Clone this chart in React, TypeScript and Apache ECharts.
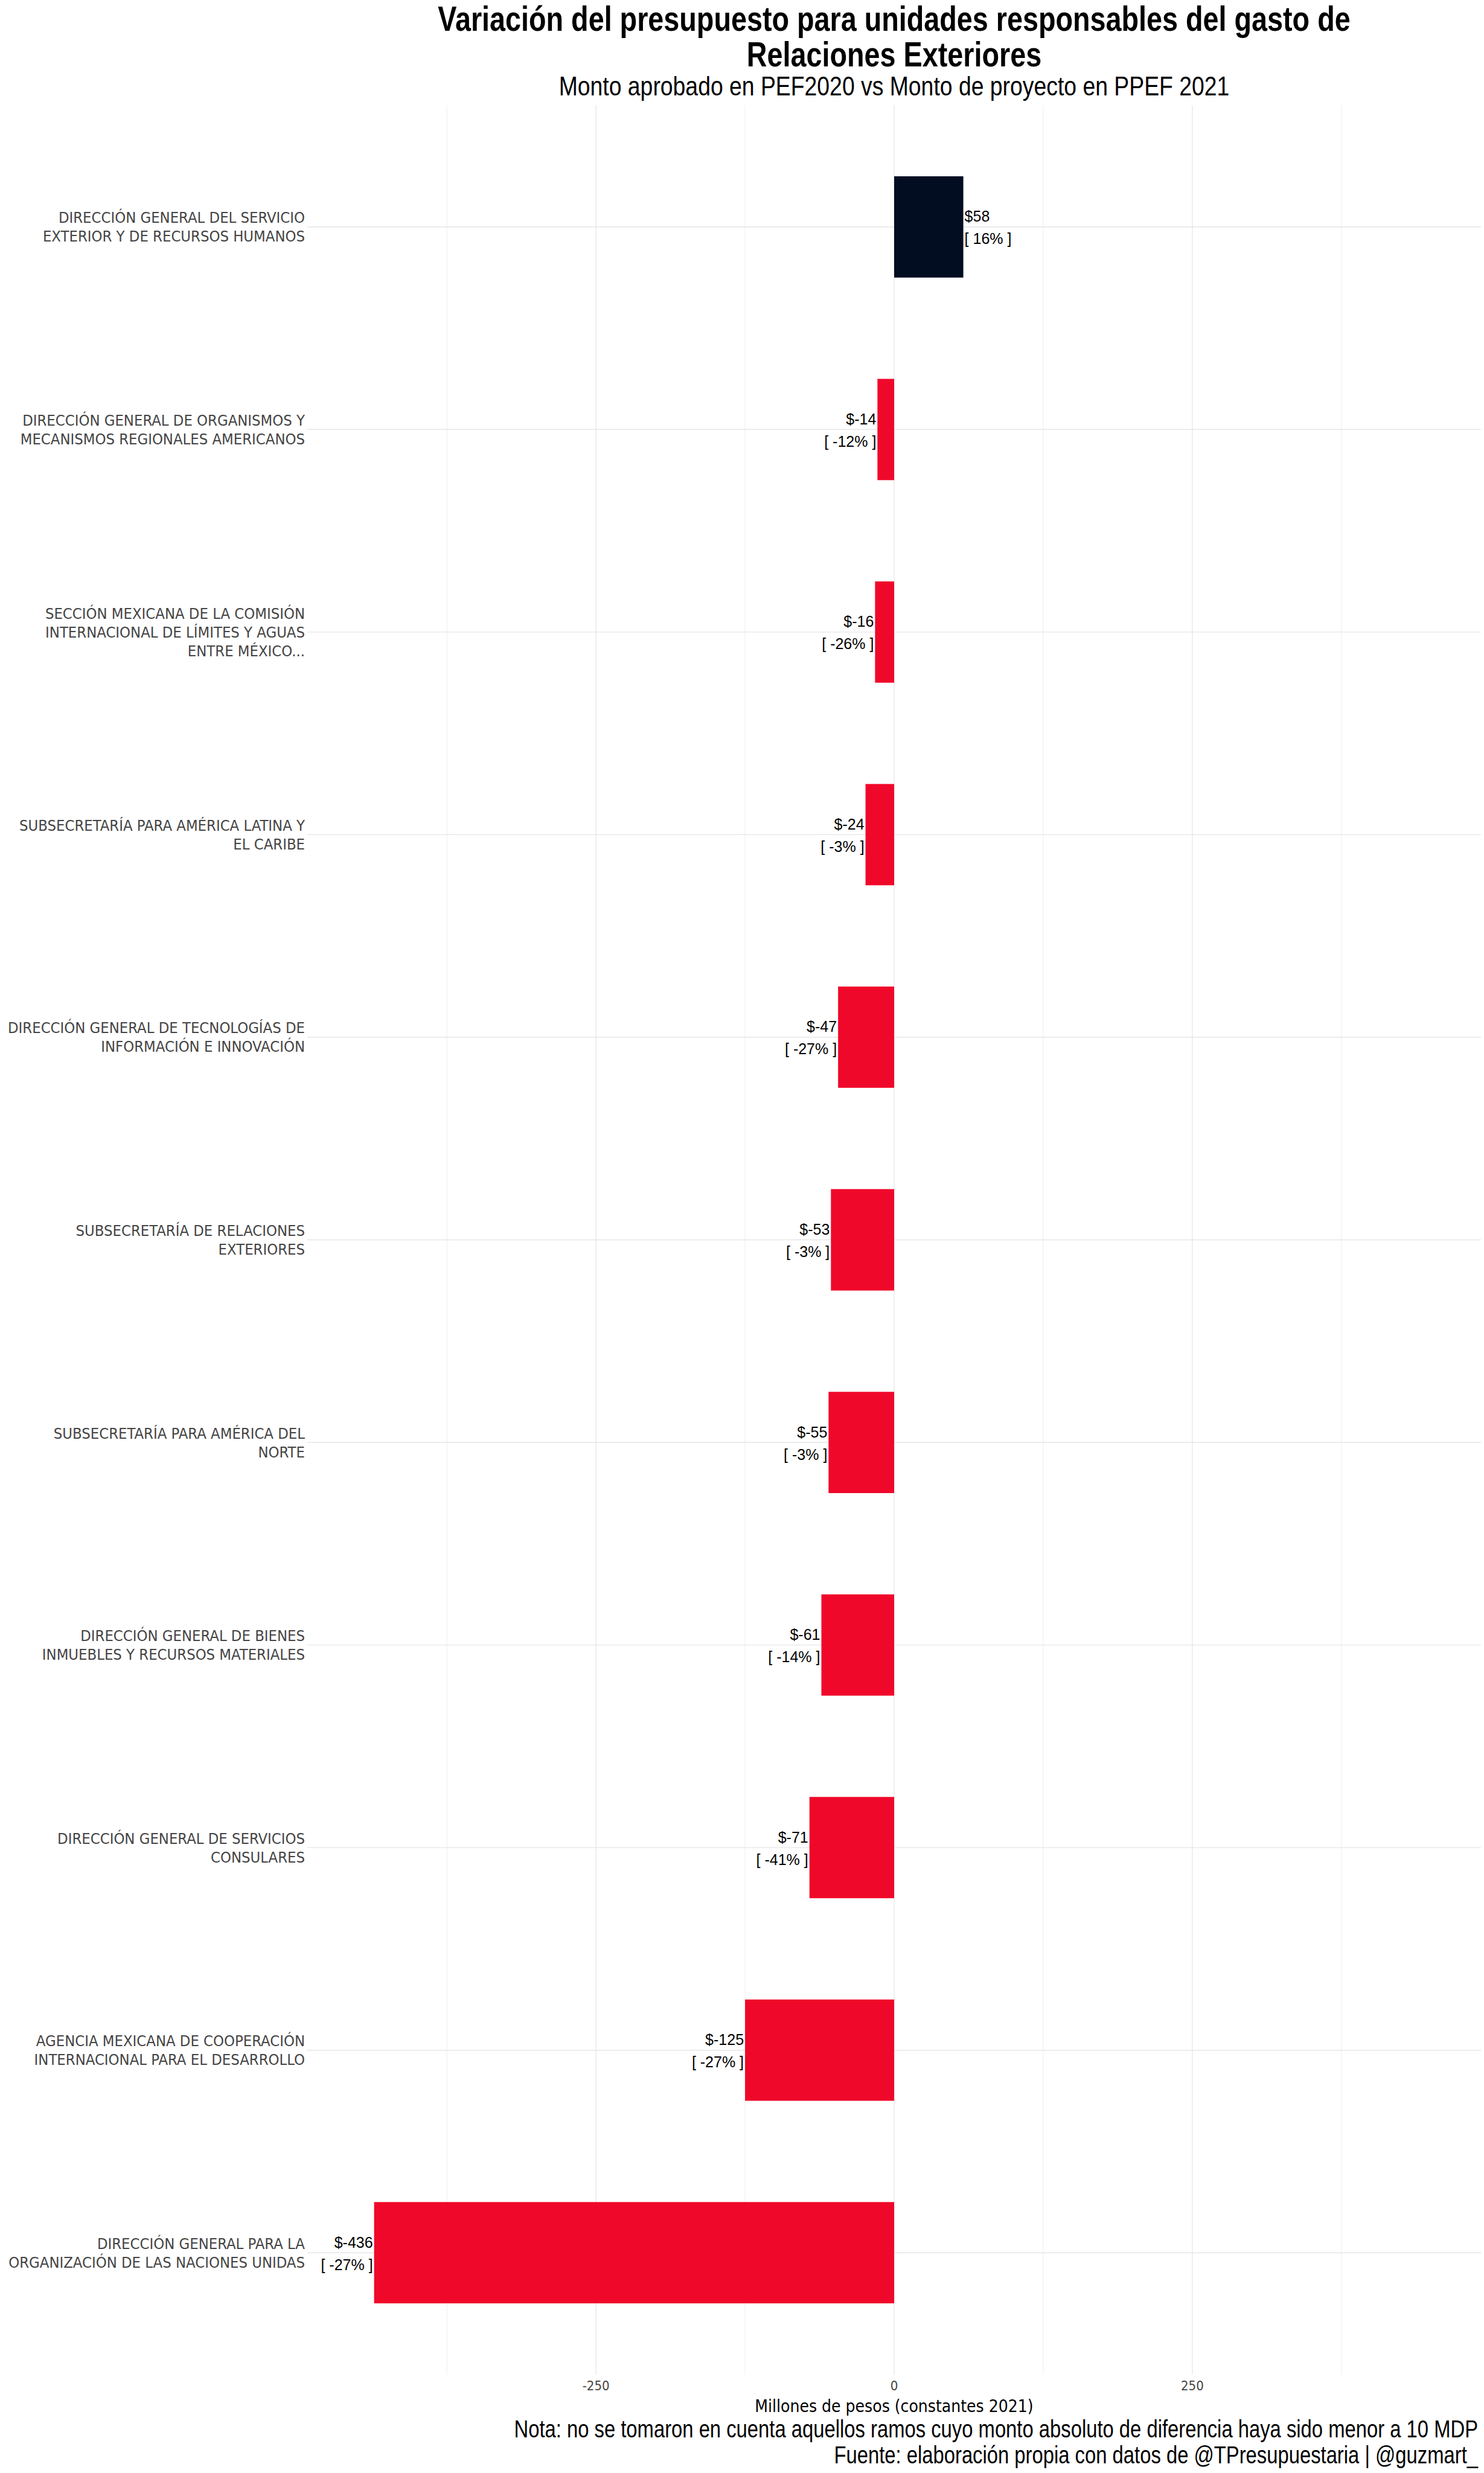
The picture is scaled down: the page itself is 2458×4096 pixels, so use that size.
import React, { useEffect, useRef } from "react";
import * as echarts from "echarts";

const categories = [
  "DIRECCIÓN GENERAL DEL SERVICIO\nEXTERIOR Y DE RECURSOS HUMANOS",
  "DIRECCIÓN GENERAL DE ORGANISMOS Y\nMECANISMOS REGIONALES AMERICANOS",
  "SECCIÓN MEXICANA DE LA COMISIÓN\nINTERNACIONAL DE LÍMITES Y AGUAS\nENTRE MÉXICO...",
  "SUBSECRETARÍA PARA AMÉRICA LATINA Y\nEL CARIBE",
  "DIRECCIÓN GENERAL DE TECNOLOGÍAS DE\nINFORMACIÓN E INNOVACIÓN",
  "SUBSECRETARÍA DE RELACIONES\nEXTERIORES",
  "SUBSECRETARÍA PARA AMÉRICA DEL\nNORTE",
  "DIRECCIÓN GENERAL DE BIENES\nINMUEBLES Y RECURSOS MATERIALES",
  "DIRECCIÓN GENERAL DE SERVICIOS\nCONSULARES",
  "AGENCIA MEXICANA DE COOPERACIÓN\nINTERNACIONAL PARA EL DESARROLLO",
  "DIRECCIÓN GENERAL PARA LA\nORGANIZACIÓN DE LAS NACIONES UNIDAS",
];
const values = [58, -14, -16, -24, -47, -53, -55, -61, -71, -125, -436];
const pcts = [16, -12, -26, -3, -27, -3, -3, -14, -41, -27, -27];
const tickLabels = [-250, 0, 250];
const majorGridValues = [-250, 0, 250];
const minorGridValues = [-375, -125, 125, 375];
const xMin = -492;
const xMax = 492;

const titleLines = [
  "Variación del presupuesto para unidades responsables del gasto de",
  "Relaciones Exteriores",
];
const subtitleText = "Monto aprobado en PEF2020 vs Monto de proyecto en PPEF 2021";
const axisTitle = "Millones de pesos (constantes 2021)";
const captionText =
  "Nota: no se tomaron en cuenta aquellos ramos cuyo monto absoluto de diferencia haya sido menor a 10 MDP\nFuente: elaboración propia con datos de @TPresupuestaria | @guzmart_";

const CONDENSED = "'DejaVu Sans Condensed', 'Liberation Sans Narrow', sans-serif";
const SANS = "'Liberation Sans', Arial, sans-serif";
const POS_COLOR = "#020D22";
const NEG_COLOR = "#F0082A";
const NARROW_SCALE = 0.82;

const W = 2458;
const H = 4096;
const PANEL_TOP = 174.4;
const PANEL_BOTTOM = 3933;

export default function App() {
  const ref = useRef<HTMLDivElement>(null);
  useEffect(() => {
    document.body.style.margin = "0";
    const chart = echarts.init(ref.current!, null, { renderer: "svg" });
    const option: any = {
      animation: false,
      backgroundColor: "#ffffff",
      grid: {
        left: 509,
        right: 5,
        top: 208,
        bottom: 197,
        containLabel: false,
        outerBoundsMode: "none",
      },
      xAxis: {
        type: "value",
        min: xMin,
        max: xMax,
        axisLine: { show: false },
        axisTick: { show: false },
        splitLine: { show: false },
        axisLabel: {
          customValues: tickLabels,
          fontFamily: CONDENSED,
          fontSize: 22,
          color: "#444444",
          margin: 41,
        },
        name: axisTitle,
        nameLocation: "middle",
        nameGap: 72,
        nameTextStyle: { fontFamily: CONDENSED, fontSize: 28, color: "#000000" },
      },
      yAxis: {
        type: "category",
        data: categories,
        inverse: true,
        axisLine: { show: false },
        axisTick: { show: false },
        splitLine: { show: false },
        axisLabel: {
          fontFamily: CONDENSED,
          fontSize: 25.4,
          lineHeight: 31,
          color: "#444444",
          margin: 4,
          interval: 0,
        },
      },
      series: [
        {
          type: "bar",
          barWidth: "50%",
          z: 2,
          data: values.map((v, i) => ({
            value: v,
            itemStyle: { color: v >= 0 ? POS_COLOR : NEG_COLOR },
            label: {
              show: true,
              position: v >= 0 ? "right" : "left",
              distance: 2,
              formatter: `$${v}\n[ ${pcts[i]}% ]`,
              fontFamily: SANS,
              fontSize: 25,
              lineHeight: 37,
              color: "#000000",
              offset: [0, 1],
            },
          })),
        },
      ],
    };
    chart.setOption(option);

    const xl = chart.convertToPixel({ xAxisIndex: 0 }, xMin) as number;
    const xr = chart.convertToPixel({ xAxisIndex: 0 }, xMax) as number;
    const xc = (xl + xr) / 2;
    const els: any[] = [];
    minorGridValues.forEach((v) => {
      const x = chart.convertToPixel({ xAxisIndex: 0 }, v) as number;
      els.push({
        type: "line",
        silent: true,
        z: 0,
        shape: { x1: x, y1: PANEL_TOP, x2: x, y2: PANEL_BOTTOM },
        style: { stroke: "#EEEEEE", lineWidth: 1 },
      });
    });
    majorGridValues.forEach((v) => {
      const x = chart.convertToPixel({ xAxisIndex: 0 }, v) as number;
      els.push({
        type: "line",
        silent: true,
        z: 0,
        shape: { x1: x, y1: PANEL_TOP, x2: x, y2: PANEL_BOTTOM },
        style: { stroke: "#E6E6E6", lineWidth: 1.3 },
      });
    });
    categories.forEach((c) => {
      const y = chart.convertToPixel({ yAxisIndex: 0 }, c) as number;
      els.push({
        type: "line",
        silent: true,
        z: 0,
        shape: { x1: xl, y1: y, x2: xr, y2: y },
        style: { stroke: "#E6E6E6", lineWidth: 1.4 },
      });
    });
    const titleYs = [31, 90];
    titleLines.forEach((t, i) => {
      els.push({
        type: "text",
        silent: true,
        x: xc,
        y: titleYs[i],
        scaleX: NARROW_SCALE,
        style: {
          text: t,
          fontFamily: SANS,
          fontSize: 57,
          fontWeight: "bold",
          lineHeight: 54,
          align: "center",
          verticalAlign: "middle",
          fill: "#000000",
        },
      });
    });
    els.push({
      type: "text",
      silent: true,
      x: xc,
      y: 143,
      scaleX: 0.83,
      style: {
        text: subtitleText,
        fontFamily: SANS,
        fontSize: 45,
        align: "center",
        verticalAlign: "middle",
        fill: "#000000",
      },
    });
    els.push({
      type: "text",
      silent: true,
      x: 2448,
      y: 4044.5,
      scaleX: NARROW_SCALE,
      style: {
        text: captionText,
        fontFamily: SANS,
        fontSize: 40,
        lineHeight: 43,
        align: "right",
        verticalAlign: "middle",
        fill: "#000000",
      },
    });
    chart.setOption({ graphic: els });

    return () => chart.dispose();
  }, []);
  return <div ref={ref} style={{ width: W, height: H }} />;
}
